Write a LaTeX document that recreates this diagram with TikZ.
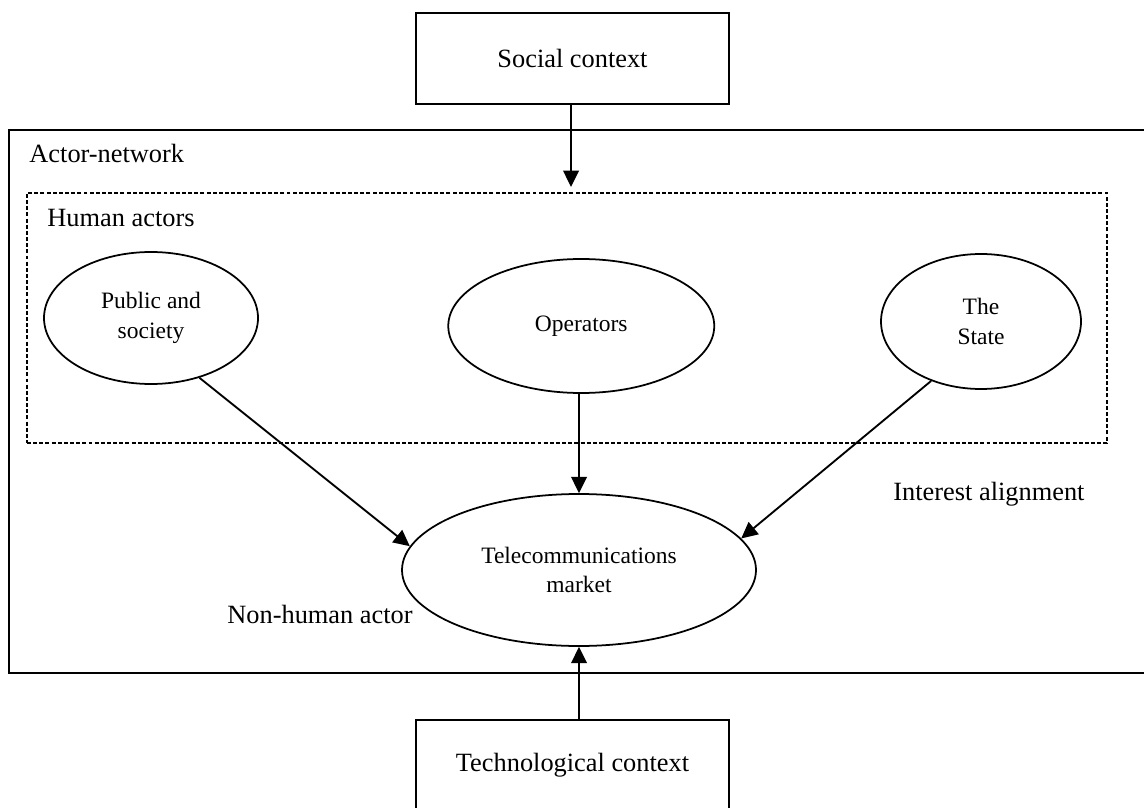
\documentclass[tikz,border=0pt]{standalone}
\usepackage{fontspec}
\setmainfont{Liberation Serif}
\usepackage{tikz}
\usetikzlibrary{shapes.geometric, arrows.meta, positioning, calc}

\begin{document}
\begin{tikzpicture}[
    font=\fontsize{12}{14}\selectfont,
    >={Triangle[length=0.26cm, width=0.25cm]},
    % Node styles
    ctxbox/.style={draw, line width=0.7pt, align=center, minimum width=5.008cm, minimum height=1.456cm, inner sep=0pt},
    netbox/.style={draw, line width=0.8pt, inner sep=0pt},
    humbox/.style={draw, line width=0.7pt, dash pattern=on 1.8pt off 1pt, inner sep=0pt},
    actor/.style={draw, ellipse, line width=0.8pt, align=center, inner sep=0pt, font=\fontsize{10.7}{13.5}\selectfont},
    lbl/.style={anchor=base west, inner sep=0pt},
    arrow/.style={->, line width=0.85pt}
]
\useasboundingbox (0,0) rectangle (18.304,-12.928);

% ========== FRAMES ==========
\node[netbox, minimum width=18.256cm, minimum height=8.688cm] (actnet) at (9.272, -6.424) {};
\node[humbox, minimum width=17.28cm, minimum height=4.0cm] (humans) at (9.072, -5.088) {};
\node[lbl] (netlbl) at (0.464, -2.608) {Actor-network};
\node[lbl] (humlbl) at (0.752, -3.632) {Human actors};

% ========== CONTEXTS ==========
\node[ctxbox] (social) at (9.16, -0.936) {Social context};
\node[ctxbox] (tech) at (9.16, -12.248) {Technological context};

% ========== ACTORS ==========
\node[actor, minimum width=3.424cm, minimum height=2.112cm] (public) at (2.416, -5.088) {Public and\\society};
\node[actor, minimum width=4.256cm, minimum height=2.144cm] (ops) at (9.3, -5.216) {Operators};
\node[actor, minimum width=3.2cm, minimum height=2.16cm] (state) at (15.696, -5.144) {The\\State};
\node[actor, minimum width=5.664cm, minimum height=2.432cm] (market) at (9.264, -9.12) {Telecommunications\\market};

% Side labels
\node[lbl] (align) at (14.288, -8.0) {Interest alignment};
\node[lbl] (nonhum) at (3.632, -9.968) {Non-human actor};

% ========== ARROWS ==========
\coordinate (humtop) at (9.136, -2.99);
\draw[arrow] (social.south -| humtop) -- (humtop);
\draw[arrow] (public.-51) -- (market.172);
\draw[arrow] (ops.south -| market.north) -- (market.north);
\draw[arrow] (state.230) -- (market.11);
\draw[arrow] (tech.north -| market.south) -- (market.south);

\end{tikzpicture}
\end{document}
